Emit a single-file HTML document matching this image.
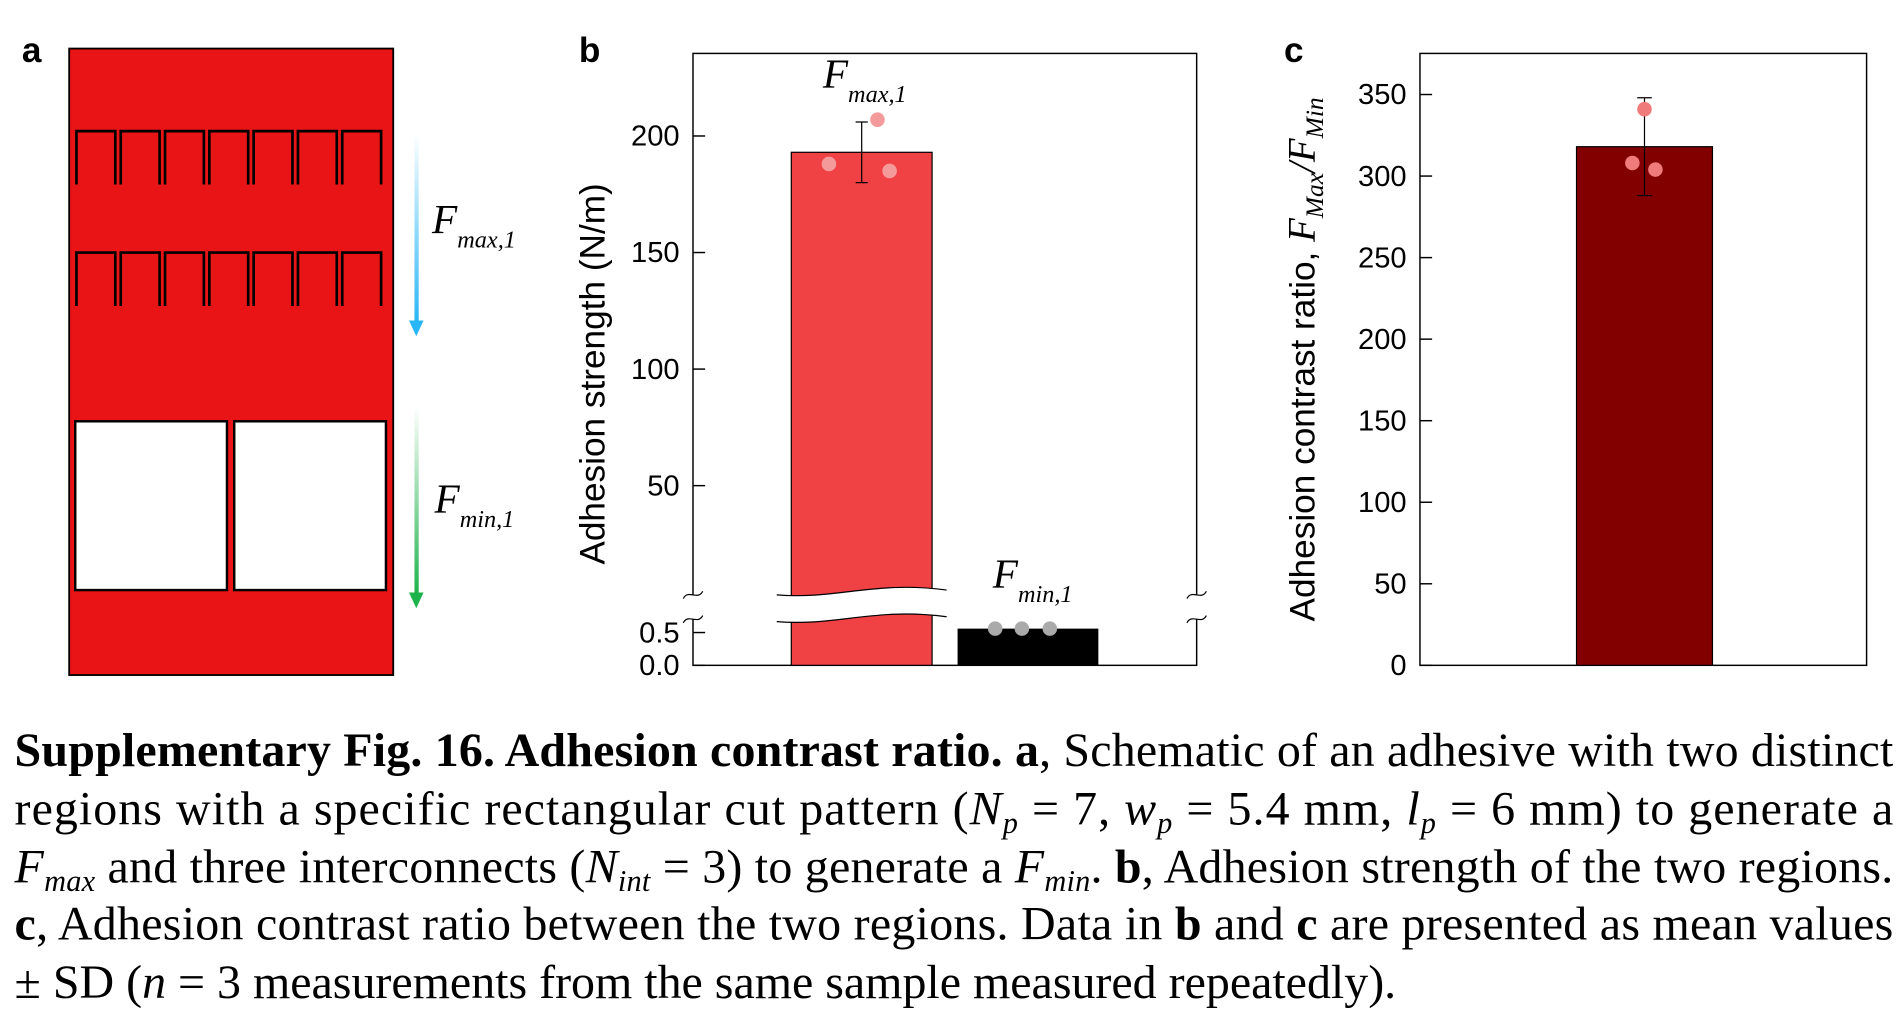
<!DOCTYPE html>
<html><head><meta charset="utf-8"><style>
html,body{margin:0;padding:0;background:#fff;}
svg{display:block;}
.sans{font-family:"Liberation Sans",Arial,sans-serif;}
.serif{font-family:"Liberation Serif","Times New Roman",serif;}
</style></head><body>
<svg id="fig" width="1903" height="1015" viewBox="0 0 1568 836" preserveAspectRatio="none" xmlns="http://www.w3.org/2000/svg">
<defs>
<linearGradient id="gb" x1="0" y1="0" x2="0" y2="1"><stop offset="0" stop-color="#fff"/><stop offset="1" stop-color="#29b6f6"/></linearGradient>
<linearGradient id="gg" x1="0" y1="0" x2="0" y2="1"><stop offset="0" stop-color="#fff"/><stop offset="1" stop-color="#1db34a"/></linearGradient>
</defs>

<g>
<text x="18" y="51" class="sans" font-size="29" font-weight="bold">a</text>
<rect x="57" y="40" width="267" height="516" fill="#e81416" stroke="#000" stroke-width="1.5"/>
<g id="cuts" fill="none" stroke="#000" stroke-width="2.2"></g>
<rect x="62" y="347" width="125" height="139" fill="#fff" stroke="#000" stroke-width="2"/>
<rect x="193" y="347" width="125" height="139" fill="#fff" stroke="#000" stroke-width="2"/>
<rect x="341.5" y="110" width="3.5" height="156" fill="url(#gb)"/>
<polygon points="337,264 349,264 343,277" fill="#29b6f6"/>
<rect x="341.5" y="335" width="3.5" height="155" fill="url(#gg)"/>
<polygon points="337,488 349,488 343,501" fill="#1db34a"/>
<text x="356" y="192" class="serif" font-style="italic" font-size="34">F<tspan font-size="20" dy="12">max,1</tspan></text>
<text x="358" y="422" class="serif" font-style="italic" font-size="34">F<tspan font-size="20" dy="12">min,1</tspan></text>
</g>

<g>
<text x="477" y="51" class="sans" font-size="29" font-weight="bold">b</text>
<rect x="571" y="44" width="415" height="504" fill="none" stroke="#000" stroke-width="1.2"/>
<g id="bticks" class="sans" font-size="24"></g>
<text transform="translate(498,308) rotate(-90)" text-anchor="middle" class="sans" font-size="29">Adhesion strength (N/m)</text>
<g id="bbars"></g>
<text x="678" y="72" class="serif" font-style="italic" font-size="34">F<tspan font-size="20" dy="12">max,1</tspan></text>
<text x="818" y="484" class="serif" font-style="italic" font-size="34">F<tspan font-size="20" dy="12">min,1</tspan></text>
</g>

<g>
<text x="1058" y="51" class="sans" font-size="29" font-weight="bold">c</text>
<rect x="1170" y="44" width="368" height="504" fill="none" stroke="#000" stroke-width="1.2"/>
<g id="cticks" class="sans" font-size="24"></g>
<text transform="translate(1083,296) rotate(-90)" text-anchor="middle" class="sans" font-size="29">Adhesion contrast ratio, <tspan class="serif" font-style="italic" font-size="32">F<tspan font-size="21" dy="7">Max</tspan><tspan dy="-7">/F</tspan><tspan font-size="21" dy="7">Min</tspan></tspan></text>
<g id="cbars"></g>
</g>

<g class="serif" font-size="39.5">
<text x="12" y="631" textLength="1548" lengthAdjust="spacing"><tspan font-weight="bold">Supplementary Fig. 16. Adhesion contrast ratio. a</tspan>, Schematic of an adhesive with two distinct</text>
<text x="12" y="679" textLength="1548" lengthAdjust="spacing">regions with a specific rectangular cut pattern (<tspan font-style="italic">N</tspan><tspan font-style="italic" font-size="25" dy="7">p</tspan><tspan dy="-7"> = 7, </tspan><tspan font-style="italic">w</tspan><tspan font-style="italic" font-size="25" dy="7">p</tspan><tspan dy="-7"> = 5.4 mm, </tspan><tspan font-style="italic">l</tspan><tspan font-style="italic" font-size="25" dy="7">p</tspan><tspan dy="-7"> = 6 mm) to generate a</tspan></text>
<text x="12" y="727" textLength="1548" lengthAdjust="spacing"><tspan font-style="italic">F</tspan><tspan font-style="italic" font-size="25" dy="7">max</tspan><tspan dy="-7"> and three interconnects (</tspan><tspan font-style="italic">N</tspan><tspan font-style="italic" font-size="25" dy="7">int</tspan><tspan dy="-7"> = 3) to generate a </tspan><tspan font-style="italic">F</tspan><tspan font-style="italic" font-size="25" dy="7">min</tspan><tspan dy="-7">. </tspan><tspan font-weight="bold">b</tspan>, Adhesion strength of the two regions.</text>
<text x="12" y="774" textLength="1548" lengthAdjust="spacing"><tspan font-weight="bold">c</tspan>, Adhesion contrast ratio between the two regions. Data in <tspan font-weight="bold">b</tspan> and <tspan font-weight="bold">c</tspan> are presented as mean values</text>
<text x="12" y="822">± SD (<tspan font-style="italic">n</tspan> = 3 measurements from the same sample measured repeatedly).</text>
</g>
</svg>
<script>
// Chart b data
const bCategories = ["Fmax,1", "Fmin,1"];
const bMeans = [193, 0.56];
const bSD = [13, 0.02];
const bPointsMax = [207, 188, 185];
const bPointsMin = [0.56, 0.56, 0.56];
const bTicksUpper = [200, 150, 100, 50];
const bTicksLower = [0.5, 0.0];
// Chart c data
const cCategories = ["ratio"];
const cMeans = [318];
const cSD = [30];
const cPoints = [341, 308, 304];
const cTicks = [350, 300, 250, 200, 150, 100, 50, 0];

const NS = "http://www.w3.org/2000/svg";
function mk(tag, attrs, parent){const e=document.createElementNS(NS,tag);for(const k in attrs)e.setAttribute(k,attrs[k]);parent.appendChild(e);return e;}

const cuts=document.getElementById('cuts');
[108,208].forEach(function(top){
  for(let i=0;i<7;i++){
    const x0=63+i*36.5, x1=x0+32;
    const p=mk('path',{d:`M${x0},${top+44} V${top} H${x1} V${top+44}`},cuts);
    
    
  }
});

function yBUp(v){return 400-1.92*(v-50);}
function yBLow(v){return 548-54*v;}
function yB(v){return v>=10?yBUp(v):yBLow(v);}
const bt=document.getElementById('bticks');
bTicksUpper.forEach(function(v){
  mk('line',{x1:571,x2:581,y1:yBUp(v),y2:yBUp(v),stroke:'#000','stroke-width':1.2},bt);
  const t=mk('text',{x:560,y:yBUp(v)+8,'text-anchor':'end'},bt);t.textContent=v;
  
  
});
bTicksLower.forEach(function(v){
  mk('line',{x1:571,x2:581,y1:yBLow(v),y2:yBLow(v),stroke:'#000','stroke-width':1.2},bt);
  const t=mk('text',{x:560,y:yBLow(v)+8,'text-anchor':'end'},bt);t.textContent=v.toFixed(1);
  
  
});
const bb=document.getElementById('bbars');
const bX=[652,789], bW=116;
bMeans.forEach(function(m,i){
  const y=yB(m);
  const r=mk('rect',{x:bX[i],y:y,width:bW,height:548-y,fill:i==0?'#f04245':'#000',stroke:'#000','stroke-width':i==0?1:0},bb);
  
  
});
const brk=mk('path',{d:'M640,490 C690,494 720,478 780,486 L780,508 C720,500 690,516 640,512 Z',fill:'#fff',stroke:'none'},bb);


mk('path',{d:'M640,490 C690,494 720,478 780,486',fill:'none',stroke:'#000','stroke-width':1},bb);
mk('path',{d:'M640,512 C690,516 720,500 780,508',fill:'none',stroke:'#000','stroke-width':1},bb);
[571,986].forEach(function(x){
  mk('rect',{x:x-3,y:490,width:6,height:20,fill:'#fff'},bb);
  [490,510].forEach(function(y){
    mk('path',{d:`M${x-8},${y+3} C${x-4},${y-5} ${x+4},${y+5} ${x+8},${y-3}`,fill:'none',stroke:'#000','stroke-width':1},bb);
  });
});
const cx0=bX[0]+bW/2;
const eTop=yB(bMeans[0]+bSD[0]), eBot=yB(bMeans[0]-bSD[0]);
const eb=mk('path',{d:`M${cx0},${eTop} V${eBot} M${cx0-5},${eTop} H${cx0+5} M${cx0-5},${eBot} H${cx0+5}`,stroke:'#000','stroke-width':1,fill:'none'},bb);


const offMax=[13,-27,23];
bPointsMax.forEach(function(v,i){
  const c=mk('circle',{cx:cx0+offMax[i],cy:yB(v),r:6,fill:'#f59a9a'},bb);
  
  
});
const cx1=bX[1]+bW/2;
const offMin=[-27,-5,18];
bPointsMin.forEach(function(v,i){
  const c=mk('circle',{cx:cx1+offMin[i],cy:yB(v),r:6,fill:'#aaa'},bb);
  
  
});

function yC(v){return 548-1.3433*v;}
const ct=document.getElementById('cticks');
cTicks.forEach(function(v){
  mk('line',{x1:1170,x2:1180,y1:yC(v),y2:yC(v),stroke:'#000','stroke-width':1.2},ct);
  const t=mk('text',{x:1159,y:yC(v)+8,'text-anchor':'end'},ct);t.textContent=v;
  
  
});
const cb=document.getElementById('cbars');
cMeans.forEach(function(m,i){
  const r=mk('rect',{x:1299,y:yC(m),width:112,height:548-yC(m),fill:'#820000',stroke:'#000','stroke-width':1},cb);
  
  
  const cx=1355, t=yC(m+cSD[i]), b=yC(m-cSD[i]);
  const e=mk('path',{d:`M${cx},${t} V${b} M${cx-6},${t} H${cx+6} M${cx-6},${b} H${cx+6}`,stroke:'#000','stroke-width':1,fill:'none'},cb);
  
  
});
const offC=[0,-10,9];
cPoints.forEach(function(v,i){
  const c=mk('circle',{cx:1355+offC[i],cy:yC(v),r:6,fill:'#f07b7b'},cb);
  
  
});
</script>
</body></html>
